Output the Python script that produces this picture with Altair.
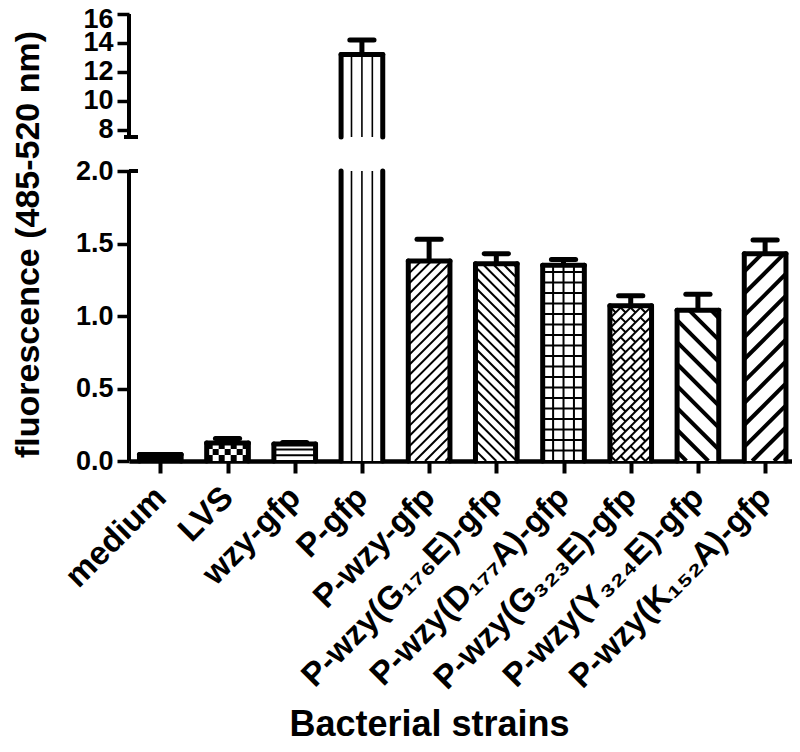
import json
import math
import pandas as pd
import altair as alt

# ---------------- data ----------------
categories = ["medium", "LVS", "wzy-gfp", "P-gfp", "P-wzy-gfp",
              "P-wzy(G₁₇₆E)-gfp", "P-wzy(D₁₇₇A)-gfp", "P-wzy(G₃₂₃E)-gfp",
              "P-wzy(Y₃₂₄E)-gfp", "P-wzy(K₁₅₂A)-gfp"]
means = [0.045, 0.125, 0.117, 13.2, 1.38, 1.36, 1.35, 1.07, 1.04, 1.43]
errors = [0.0, 0.03, 0.01, 1.0, 0.15, 0.07, 0.04, 0.07, 0.11, 0.095]
patterns = ["solid", "checker", "hlines", "vlines", "fine_up", "fine_down",
            "grid", "brick", "wide_down", "wide_up"]
y_ticks = [0, 0.5, 1.0, 1.5, 2.0, 8, 10, 12, 14, 16]

# ---------------- layout ----------------
W, H = 663, 447
X_DOM = [-0.466, 9.4]
BREAK_LO, BREAK_HI, Y_MAX = 2.0, 7.5, 16.0
Y_RANGE = [H, 157, 123, 0]
SX = W / (X_DOM[1] - X_DOM[0])          # px per x unit
SY = (Y_RANGE[0] - Y_RANGE[1]) / BREAK_LO  # px per y unit (lower panel)
HALF = 0.31
FONT = "Liberation Sans"


def clip(p0, p1, box):
    (x0, y0), (x1, y1) = p0, p1
    xmin, xmax, ymin, ymax = box
    dx, dy = x1 - x0, y1 - y0
    t0, t1 = 0.0, 1.0
    for p, q in ((-dx, x0 - xmin), (dx, xmax - x0), (-dy, y0 - ymin), (dy, ymax - y0)):
        if abs(p) < 1e-12:
            if q < 0:
                return None
        else:
            t = q / p
            if p < 0:
                if t > t1:
                    return None
                t0 = max(t0, t)
            else:
                if t < t0:
                    return None
                t1 = min(t1, t)
    if t1 - t0 < 1e-9:
        return None
    return (x0 + t0 * dx, y0 + t0 * dy, x0 + t1 * dx, y0 + t1 * dy)


def frame(angle_deg, box):
    a = math.radians(angle_deg)
    d = (math.cos(a), math.sin(a))
    n = (-math.sin(a), math.cos(a))
    corners = [(box[0], box[2]), (box[1], box[2]), (box[0], box[3]), (box[1], box[3])]
    qs = [c[0] * n[0] + c[1] * n[1] for c in corners]
    ps = [c[0] * d[0] + c[1] * d[1] for c in corners]
    return d, n, min(ps), max(ps), min(qs), max(qs)


def hatch(box, angle_deg, spacing):
    d, n, pmin, pmax, qmin, qmax = frame(angle_deg, box)
    segs = []
    q = math.floor(qmin / spacing) * spacing
    while q <= qmax:
        a0 = (q * n[0] + pmin * d[0], q * n[1] + pmin * d[1])
        a1 = (q * n[0] + pmax * d[0], q * n[1] + pmax * d[1])
        s = clip(a0, a1, box)
        if s:
            segs.append(s)
        q += spacing
    return segs


def brick(box, spacing, length):
    segs = hatch(box, 45, spacing)
    d, n, pmin, pmax, qmin, qmax = frame(45, box)
    k = math.floor(qmin / spacing)
    while k * spacing <= qmax:
        q0, q1 = k * spacing, (k + 1) * spacing
        off = (k % 2) * length / 2
        p = math.floor((pmin - off) / length) * length + off
        while p <= pmax:
            a0 = (q0 * n[0] + p * d[0], q0 * n[1] + p * d[1])
            a1 = (q1 * n[0] + p * d[0], q1 * n[1] + p * d[1])
            s = clip(a0, a1, box)
            if s:
                segs.append(s)
            p += length
        k += 1
    return segs


# ---------------- build geometry from the data ----------------
pieces = []
for i, m in enumerate(means):
    if m > BREAK_HI:
        pieces.append((i, 0.0, BREAK_LO, False))
        pieces.append((i, BREAK_HI, m, True))
    else:
        pieces.append((i, 0.0, m, True))

fills, edges, lines, cells = [], [], [], []
for i, y0, y1, top in pieces:
    xl, xr = i - HALF, i + HALF
    pat = patterns[i]
    fills.append(dict(x=xl, x2=xr, y=y0, y2=y1, c="black" if pat == "solid" else "white"))
    edges.append(dict(x=xl, x2=xl, y=y0, y2=y1))
    edges.append(dict(x=xr, x2=xr, y=y0, y2=y1))
    if top:
        edges.append(dict(x=xl, x2=xr, y=y1, y2=y1))
    box = (xl * SX, xr * SX, y0 * SY, y1 * SY)

    def add(segs, w):
        for s in segs:
            lines.append(dict(x=s[0] / SX, x2=s[2] / SX, y=s[1] / SY, y2=s[3] / SY, w=w))

    if pat == "vlines":
        for k in (-1, 0, 1):
            lines.append(dict(x=i + k * HALF / 2, x2=i + k * HALF / 2, y=y0, y2=y1, w=1.6))
    elif pat == "grid":
        for k in (-1, 0, 1):
            lines.append(dict(x=i + k * HALF / 2, x2=i + k * HALF / 2, y=y0, y2=y1, w=2))
        add(hatch(box, 0, 10.5), 2)
    elif pat == "hlines":
        add(hatch(box, 0, 5.8), 2)
    elif pat == "fine_up":
        add(hatch(box, 45, 7.2), 2)
    elif pat == "fine_down":
        add(hatch(box, -45, 7.2), 2)
    elif pat == "wide_up":
        add(hatch(box, 45, 15.5), 4)
    elif pat == "wide_down":
        add(hatch(box, -45, 15.5), 4)
    elif pat == "brick":
        add(brick(box, 7.0, 14.0), 2)
    elif pat == "checker":
        c = 6.0
        nu = int(math.ceil((box[1] - box[0]) / c))
        nv = int(math.ceil((box[3] - box[2]) / c))
        for a in range(nu):
            for b in range(nv):
                if (a + b) % 2 == 0:
                    u0 = box[0] + a * c
                    v0 = box[2] + b * c
                    cells.append(dict(x=u0 / SX, x2=min(u0 + c, box[1]) / SX,
                                      y=v0 / SY, y2=min(v0 + c, box[3]) / SY))

err_v, err_cap = [], []
for i, (m, e) in enumerate(zip(means, errors)):
    if e > 0:
        err_v.append(dict(x=i, x2=i, y=m, y2=m + e))
    err_cap.append(dict(x=i - 0.18, x2=i + 0.18, y=m + e, y2=m + e))

x0 = X_DOM[0]
yaxis_lines = [dict(x=x0, x2=x0, y=0, y2=BREAK_LO), dict(x=x0, x2=x0, y=BREAK_HI, y2=Y_MAX),
               dict(x=x0, x2=x0 + 9 / SX, y=BREAK_LO, y2=BREAK_LO),
               dict(x=x0 - 5 / SX, x2=x0 + 9 / SX, y=BREAK_HI, y2=BREAK_HI)]

# ---------------- scales / axes ----------------
label_expr = json.dumps(categories, ensure_ascii=False) + "[round(datum.value)]"
xs = alt.Scale(domain=X_DOM, nice=False, zero=False)
ys = alt.Scale(domain=[0, BREAK_LO, BREAK_HI, Y_MAX], range=Y_RANGE, nice=False, zero=False)
x_axis = alt.Axis(values=list(range(len(categories))), labelExpr=label_expr, title="Bacterial strains",
                  grid=False, domainColor="black", domainWidth=4.5, tickColor="black", tickWidth=4,
                  tickSize=12, labelAngle=-45, labelAlign="right", labelBaseline="middle",
                  labelPadding=19, labelFontSize=33, labelFont=FONT, labelFontWeight="bold",
                  labelColor="black", labelOverlap=False, labelFlush=False, labelBound=False,
                  labelLimit=1000,
                  titleFont=FONT, titleFontSize=36, titleFontWeight="bold", titleColor="black",
                  titleX=300, titleY=274, titleAlign="center", titleBaseline="alphabetic")
y_axis = alt.Axis(values=y_ticks,
                  labelExpr="datum.value <= 2 ? format(datum.value, '.1f') : format(datum.value, 'd')",
                  title="fluorescence (485-520 nm)", grid=False, domain=False, tickColor="black",
                  tickWidth=3.5, tickSize=12, labelPadding=4, labelFontSize=27, labelFont=FONT,
                  labelFontWeight="bold", labelColor="black", labelOverlap=False, labelFlush=False,
                  labelOffset=alt.condition("datum.value == 16", alt.value(5), alt.value(0)),
                  titleFont=FONT, titleFontSize=34, titleFontWeight="bold", titleColor="black",
                  titleX=-101, titleY=230, titleAlign="center", titleBaseline="middle", titleAngle=-90)

X = alt.X("x:Q", scale=xs, axis=x_axis)
Y = alt.Y("y:Q", scale=ys, axis=y_axis)

fill_layer = alt.Chart(pd.DataFrame(fills)).mark_rect(stroke=None).encode(
    x=X, x2="x2:Q", y=Y, y2="y2:Q", fill=alt.Fill("c:N", scale=None))
cell_layer = alt.Chart(pd.DataFrame(cells)).mark_rect(color="black").encode(
    x=X, x2="x2:Q", y=Y, y2="y2:Q")
line_layer = alt.Chart(pd.DataFrame(lines)).mark_rule(color="black", strokeCap="butt").encode(
    x=X, x2="x2:Q", y=Y, y2="y2:Q", strokeWidth=alt.StrokeWidth("w:Q", scale=None))
edge_layer = alt.Chart(pd.DataFrame(edges)).mark_rule(color="black", strokeWidth=5, strokeCap="round").encode(
    x=X, x2="x2:Q", y=Y, y2="y2:Q")
errv_layer = alt.Chart(pd.DataFrame(err_v)).mark_rule(color="black", strokeWidth=5, strokeCap="butt").encode(
    x=X, x2="x2:Q", y=Y, y2="y2:Q")
cap_layer = alt.Chart(pd.DataFrame(err_cap)).mark_rule(color="black", strokeWidth=5, strokeCap="round").encode(
    x=X, x2="x2:Q", y=Y, y2="y2:Q")
axis_layer = alt.Chart(pd.DataFrame(yaxis_lines)).mark_rule(color="black", strokeWidth=4, strokeCap="butt").encode(
    x=X, x2="x2:Q", y=Y, y2="y2:Q")

chart = alt.layer(fill_layer, cell_layer, line_layer, errv_layer, cap_layer, edge_layer, axis_layer).properties(
    width=W, height=H,
    autosize=alt.AutoSizeParams(type="none"),
    padding={"left": 121, "top": 6, "right": 0, "bottom": 283},
).configure_view(stroke=None)

chart.save("out.html", embed_options={"renderer": "svg", "actions": False})
